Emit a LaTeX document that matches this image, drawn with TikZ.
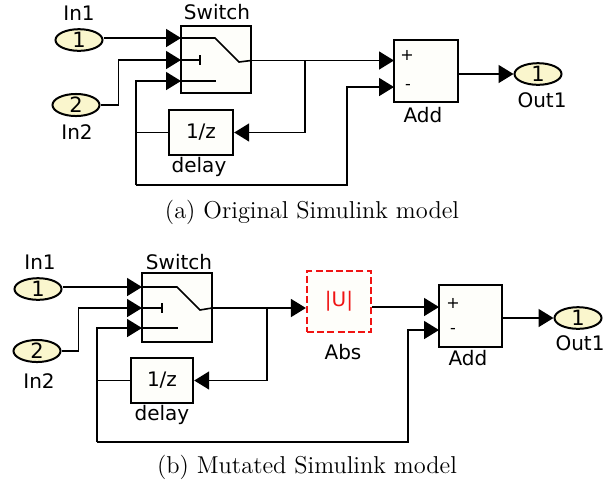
\documentclass[tikz,border=0pt]{standalone}
\usepackage{fontspec}
\setmainfont{Latin Modern Roman}
\newfontfamily\djv{DejaVu Sans}
\usetikzlibrary{arrows.meta,shapes.geometric,calc}
\definecolor{portfill}{RGB}{250,246,205}
\definecolor{blkfill}{RGB}{254,254,250}
\definecolor{absred}{RGB}{240,20,20}
\tikzset{
  blk/.style={draw,line width=1.2pt,fill=blkfill,inner sep=0pt},
  port/.style={draw,line width=1pt,fill=portfill,ellipse,inner sep=0pt,minimum width=23.5pt,minimum height=10.5pt,font=\djv\fontsize{10.5}{12}\selectfont},
  lbl/.style={inner sep=0pt,font=\djv\fontsize{10}{12}\selectfont},
  sgn/.style={inner sep=0pt,font=\djv\fontsize{8}{10}\selectfont},
  conn/.style={line width=0.8pt},
  arr/.style={line width=0.8pt,-{Triangle[length=7.5pt,width=9pt]}},
  captext/.style={inner sep=0pt,font=\fontsize{12.2}{14}\selectfont},
}
\begin{document}
\begin{tikzpicture}[x=0.5pt,y=-0.5pt]
\useasboundingbox (0,0) rectangle (608,489);
% ================= (a) =================
\node[port] (ain1) at (79,40) {1};
\node[lbl] (ain1l) at (79,13) {In1};
\node[port] (ain2) at (76,105) {2};
\node[lbl] (ain2l) at (77,132) {In2};
\node[blk,minimum width=35pt,minimum height=33.5pt] (asw) at (216,59.5) {};
\node[lbl] (aswl) at (217,12) {Switch};
\node[blk,minimum width=32pt,minimum height=22.5pt,font=\djv\fontsize{10}{12}\selectfont] (adl) at (201,132.5) {1/z};
\node[lbl] (adll) at (199,167) {delay};
\node[blk,minimum width=32pt,minimum height=31pt] (aadd) at (426,71) {};
\node[sgn] (aplus) at (407,55) {+};
\node[sgn] (aminus) at (408,87) {-};
\node[lbl] (aaddl) at (423,115) {Add};
\node[port] (aout) at (538,74) {1};
\node[lbl] (aoutl) at (542,100) {Out1};
\node[captext] (capa) at (312,212) {(a) Original Simulink model};
% ports
\coordinate (as1) at (181,38);
\coordinate (as2) at (181,60);
\coordinate (as3) at (181,81);
\coordinate (aso) at (251,60.5);
\coordinate (aa1) at (394,60.5);
\coordinate (aa2) at (394,87);
\coordinate (abr) at (305,60.5);
\coordinate (afbT) at (136,81);
\coordinate (afbM) at (136,132.5);
\coordinate (afbB) at (136,185);
\coordinate (afbR) at (347,185);
% switch internals
\draw[conn] (as1) -- (215,38) -- (239,62) -- (aso);
\draw[conn] (as2) -- (200,60);
\draw[conn] (200,55) -- (200,65);
\draw[conn] (as3) -- (216,81);
% connectors
\draw[arr] (ain1.east |- as1) -- (as1);
\draw[arr] (ain2.east) -- ++(18,0) |- (as2);
\draw[arr] (aso) -- (aa1);
\draw[arr] (abr) |- (adl.east);
\draw[conn] (adl.west) -- (afbM);
\draw[arr] (afbB) -- (afbT) -- (as3);
\draw[arr] (afbB) -- (afbR) |- (aa2);
\draw[arr] (aadd.east |- aout) -- (aout.west);
% ================= (b) =================
\node[port] (bin1) at (38,289) {1};
\node[lbl] (bin1l) at (40,262) {In1};
\node[port] (bin2) at (37,351) {2};
\node[lbl] (bin2l) at (39,381) {In2};
\node[blk,minimum width=35pt,minimum height=34.5pt] (bsw) at (177,307.5) {};
\node[lbl] (bswl) at (179,262) {Switch};
\node[blk,minimum width=31pt,minimum height=22.5pt,font=\djv\fontsize{10}{12}\selectfont] (bdl) at (162,380.5) {1/z};
\node[lbl] (bdll) at (162,415) {delay};
\node[draw=absred,dash pattern=on 3.5pt off 1.6pt,line width=1.1pt,fill=blkfill,inner sep=0pt,minimum width=32pt,minimum height=30.5pt,text=absred,font=\djv\fontsize{10}{12}\selectfont] (babs) at (339,301.5) {|U|};
\node[lbl] (babsl) at (343,352) {Abs};
\node[blk,minimum width=31.5pt,minimum height=31pt] (badd) at (470.5,316) {};
\node[sgn] (bplus) at (453,303) {+};
\node[sgn] (bminus) at (453,331) {-};
\node[lbl] (baddl) at (468,358) {Add};
\node[port] (bout) at (578,318) {1};
\node[lbl] (boutl) at (580,343) {Out1};
\node[captext] (capb) at (307,467) {(b) Mutated Simulink model};
% ports
\coordinate (bs1) at (142,287);
\coordinate (bs2) at (142,308);
\coordinate (bs3) at (142,328);
\coordinate (bso) at (212,308);
\coordinate (ba1) at (439,307);
\coordinate (ba2) at (439,330);
\coordinate (bbr) at (267,308);
\coordinate (bfbT) at (97,328);
\coordinate (bfbM) at (97,380.5);
\coordinate (bfbB) at (97,442);
\coordinate (bfbR) at (408,442);
% switch internals
\draw[conn] (bs1) -- (177,287) -- (200,310) -- (bso);
\draw[conn] (bs2) -- (162,308);
\draw[conn] (162,303) -- (162,313);
\draw[conn] (bs3) -- (178,328);
% connectors
\draw[arr] (bin1.east |- bs1) -- (bs1);
\draw[arr] (bin2.east) -- ++(17,0) |- (bs2);
\draw[arr] (bso) -- (babs.west |- bso);
\draw[arr] (babs.east |- ba1) -- (ba1);
\draw[arr] (bbr) |- (bdl.east);
\draw[conn] (bdl.west) -- (bfbM);
\draw[arr] (bfbB) -- (bfbT) -- (bs3);
\draw[arr] (bfbB) -- (bfbR) |- (ba2);
\draw[arr] (badd.east |- bout) -- (bout.west);
\end{tikzpicture}
\end{document}
